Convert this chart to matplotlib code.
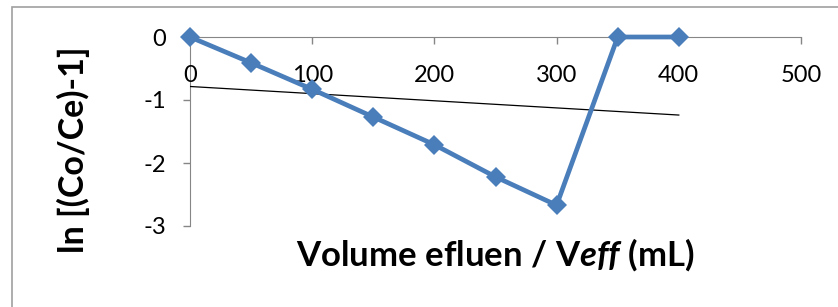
import numpy as np
import matplotlib.pyplot as plt
from matplotlib.patches import Rectangle

plt.rcParams['font.family'] = ['Lato', 'DejaVu Sans']
plt.rcParams['mathtext.fontset'] = 'custom'
plt.rcParams['mathtext.it'] = 'Lato:italic:bold'
plt.rcParams['mathtext.rm'] = 'Lato:bold'

# data
volume = [0, 50, 100, 150, 200, 250, 300, 350, 400]
ln_ratio = [0, -0.41, -0.83, -1.27, -1.71, -2.22, -2.67, 0, 0]
xticks = [0, 100, 200, 300, 400, 500]
yticks = [0, -1, -2, -3]

W, H = 838, 307
fig = plt.figure(figsize=(W / 100, H / 100), dpi=100)

# outer chart border (excel style), runs off the right and bottom
fig.patches.append(Rectangle((12 / W, -0.1), 1.2, 1 - 7 / H + 0.1,
                             transform=fig.transFigure, fill=False,
                             edgecolor='#a0a0a0', lw=1.2))

ax = fig.add_axes([190 / W, 1 - 226 / H, (801 - 190) / W, (226 - 37) / H])
ax.set_xlim(0, 500)
ax.set_ylim(-3, 0)

blue = '#4a7ebb'
ax.plot(volume, ln_ratio, color=blue, lw=3.4, marker='D', markersize=10.5,
        markeredgewidth=0, clip_on=False, zorder=3)

# linear trendline
k, b = np.polyfit(volume, ln_ratio, 1)
tx = np.array([volume[0], volume[-1]])
ax.plot(tx, k * tx + b, color='black', lw=0.9, zorder=2)

grey = '#868686'
ax.spines['right'].set_visible(False)
ax.spines['top'].set_visible(False)
ax.spines['bottom'].set_position(('data', 0))
ax.spines['bottom'].set_color(grey)
ax.spines['left'].set_color(grey)
ax.spines['bottom'].set_zorder(1)
ax.spines['left'].set_zorder(1)

ax.set_xticks(xticks)
ax.set_yticks(yticks)
ax.set_yticklabels([str(v) for v in yticks])
ax.tick_params(axis='x', direction='out', length=5, width=1, color=grey,
               labelsize=17, pad=15)
ax.tick_params(axis='y', direction='out', length=5, width=1, color=grey,
               labelsize=17, pad=12)

fig.text(495 / W, 1 - 255 / H, 'Volume efluen / V$eff$ (mL)',
         ha='center', va='center', fontsize=25, fontweight='bold')
fig.text(73 / W, 1 - 150 / H, 'ln [(Co/Ce)-1]', rotation=90,
         ha='center', va='center', fontsize=24.5, fontweight='bold')

fig.savefig('out.png', dpi=100)
